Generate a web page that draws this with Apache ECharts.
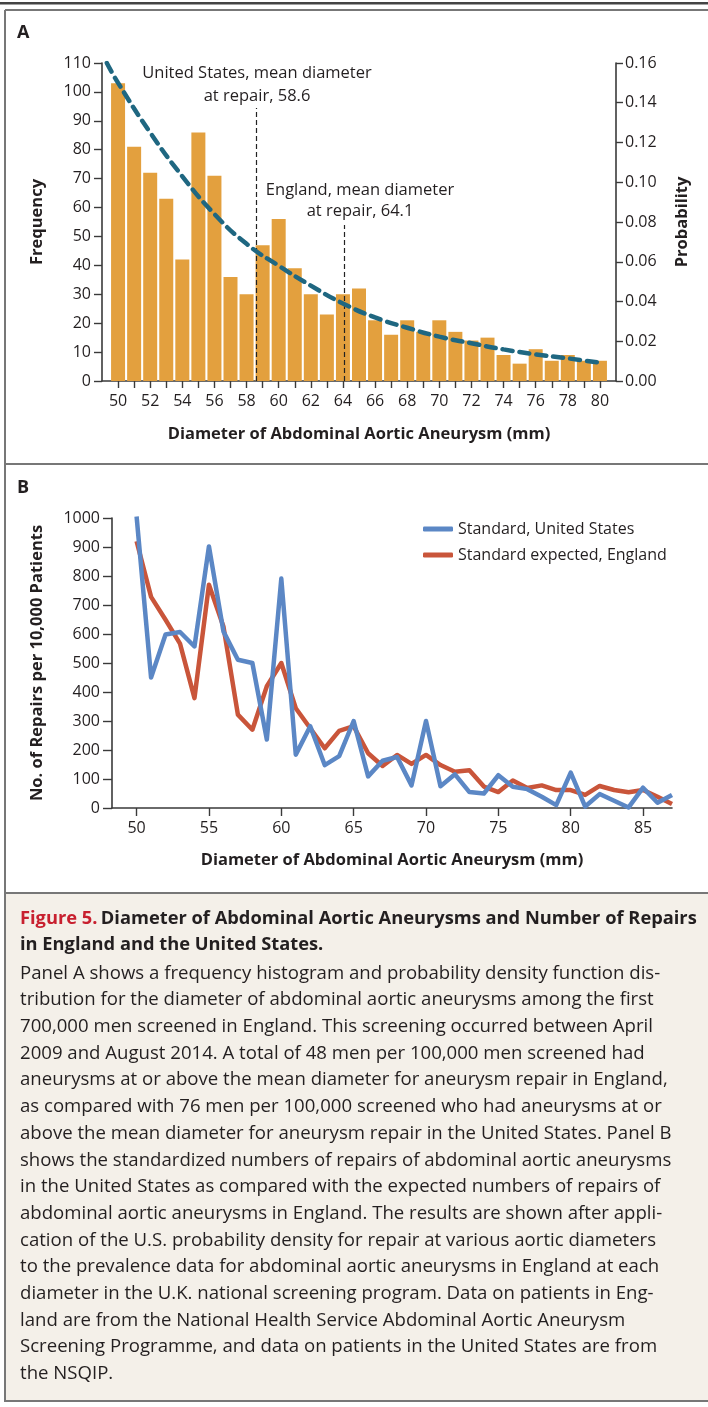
<!DOCTYPE html>
<html>
<head>
<meta charset="utf-8">
<script src="https://cdn.jsdelivr.net/npm/echarts@6/dist/echarts.min.js"></script>
<style>
  html, body { margin: 0; padding: 0; background: #fff; }
  #chart { width: 708px; height: 1407px; }
</style>
</head>
<body>
<div id="chart"></div>
<script>
const FONT = '"Open Sans"';
const INK = '#231f20';

// Panel A: frequency histogram + probability density
const diameterA = [50, 51, 52, 53, 54, 55, 56, 57, 58, 59, 60, 61, 62, 63, 64, 65,
    66, 67, 68, 69, 70, 71, 72, 73, 74, 75, 76, 77, 78, 79, 80];
const frequency = [103, 81, 72, 63, 42, 86, 71, 36, 30, 47, 56, 39, 30, 23, 30, 32,
    21, 16, 21, 17, 21, 17, 14, 15, 9, 6, 11, 7, 9, 7, 7];
const pdfDiameter = [49.3, 50, 52, 54, 56, 58, 60, 62, 64, 66, 68, 70, 72, 74, 76, 78, 80];
const pdfProbability = [0.160, 0.150, 0.125, 0.103, 0.084, 0.069, 0.058, 0.048, 0.039,
    0.032, 0.0268, 0.0223, 0.019, 0.0159, 0.0134, 0.0114, 0.0092];
const meanRepair = [58.6, 64.1];
const meanLineTop = [94.4, 54];
const ticksA = diameterA;
const labelsA = [50, 52, 54, 56, 58, 60, 62, 64, 66, 68, 70, 72, 74, 76, 78, 80];

// Panel B: repairs per 10,000 patients
const diameterB = [50, 51, 52, 53, 54, 55, 56, 57, 58, 59, 60, 61, 62, 63, 64, 65, 66, 67, 68,
    69, 70, 71, 72, 73, 74, 75, 76, 77, 78, 79, 80, 81, 82, 83, 84, 85, 86, 87];
const usRepairs = [1005, 450, 598, 607, 557, 902, 609, 511, 500, 236, 791, 184, 282, 148, 179,
    300, 109, 163, 176, 78, 300, 75, 116, 55, 50, 113, 73, 65, 39, 10, 122, 5, 48, 25, 2, 70, 18, 45];
const englandRepairs = [920, 728, 649, 567, 379, 770, 626, 322, 270, 420, 500, 344, 275, 206, 266,
    282, 189, 145, 183, 152, 183, 148, 125, 130, 74, 55, 95, 69, 78, 62, 62, 45, 76, 62, 54, 62, 39, 14];
const ticksB = [50, 55, 60, 65, 70, 75, 80, 85];

const captionLines = [
    'Panel A shows a frequency histogram and probability density function dis-',
    'tribution for the diameter of abdominal aortic aneurysms among the first',
    '700,000 men screened in England. This screening occurred between April',
    '2009 and August 2014. A total of 48 men per 100,000 men screened had',
    'aneurysms at or above the mean diameter for aneurysm repair in England,',
    'as compared with 76 men per 100,000 screened who had aneurysms at or',
    'above the mean diameter for aneurysm repair in the United States. Panel B',
    'shows the standardized numbers of repairs of abdominal aortic aneurysms',
    'in the United States as compared with the expected numbers of repairs of',
    'abdominal aortic aneurysms in England. The results are shown after appli-',
    'cation of the U.S. probability density for repair at various aortic diameters',
    'to the prevalence data for abdominal aortic aneurysms in England at each',
    'diameter in the U.K. national screening program. Data on patients in Eng-',
    'land are from the National Health Service Abdominal Aortic Aneurysm',
    'Screening Programme, and data on patients in the United States are from',
    'the NSQIP.'
];

const axisLine = { show: true, onZero: false, lineStyle: { color: '#3a3a3a', width: 1.6 } };
const tickStyle = { color: '#3a3a3a', width: 1.4 };
const tickLabel = { fontFamily: FONT, fontSize: 16, color: INK };
const nameStyle = { fontFamily: FONT, fontSize: 16.5, fontWeight: 'bold', color: INK };

const chart = echarts.init(document.getElementById('chart'));

chart.setOption({
    animation: false,
    textStyle: { fontFamily: FONT },
    grid: [
        { left: 102, right: 92, top: 63, height: 318 },
        { left: 112, right: 36, top: 518, height: 290 }
    ],
    xAxis: [
        {
            gridIndex: 0, type: 'value', min: 49, max: 81,
            axisLine: axisLine,
            axisTick: { show: true, customValues: ticksA, length: 7, lineStyle: tickStyle },
            axisLabel: { customValues: labelsA, margin: 12, ...tickLabel },
            splitLine: { show: false },
            name: 'Diameter of Abdominal Aortic Aneurysm (mm)',
            nameLocation: 'middle', nameGap: 45, nameTextStyle: nameStyle
        },
        {
            gridIndex: 1, type: 'value', min: 48.3, max: 87,
            axisLine: axisLine,
            axisTick: { show: true, customValues: ticksB, length: 8, lineStyle: tickStyle },
            axisLabel: { customValues: ticksB, margin: 12, ...tickLabel },
            splitLine: { show: false },
            name: 'Diameter of Abdominal Aortic Aneurysm (mm)',
            nameLocation: 'middle', nameGap: 44, nameTextStyle: nameStyle
        }
    ],
    yAxis: [
        {
            gridIndex: 0, type: 'value', min: 0, max: 110, interval: 10,
            axisLine: axisLine,
            axisTick: { show: true, length: 8, lineStyle: tickStyle },
            axisLabel: { margin: 11, ...tickLabel },
            splitLine: { show: false },
            name: 'Frequency', nameLocation: 'middle', nameRotate: 90, nameGap: 56,
            nameTextStyle: nameStyle
        },
        {
            gridIndex: 0, type: 'value', position: 'right', min: 0, max: 0.16, interval: 0.02,
            axisLine: axisLine,
            axisTick: { show: true, length: 7, lineStyle: tickStyle },
            axisLabel: { margin: 9, formatter: (v) => v.toFixed(2), ...tickLabel },
            splitLine: { show: false },
            name: 'Probability', nameLocation: 'middle', nameRotate: 90, nameGap: 58,
            nameTextStyle: nameStyle
        },
        {
            gridIndex: 1, type: 'value', min: 0, max: 1000, interval: 100,
            axisLine: axisLine,
            axisTick: { show: true, length: 9, lineStyle: tickStyle },
            axisLabel: { margin: 12, formatter: (v) => String(v), ...tickLabel },
            splitLine: { show: false },
            name: 'No. of Repairs per 10,000 Patients', nameLocation: 'middle', nameRotate: 90,
            nameGap: 66, nameTextStyle: nameStyle
        }
    ],
    legend: {
        data: ['Standard, United States', 'Standard expected, England'],
        orient: 'vertical', left: 418, top: 516,
        itemWidth: 30, itemHeight: 5, itemGap: 10, icon: 'roundRect',
        selectedMode: false,
        textStyle: { fontFamily: FONT, fontSize: 16, color: INK }
    },
    series: [
        {
            type: 'bar', name: 'Frequency', xAxisIndex: 0, yAxisIndex: 0,
            data: diameterA.map((d, i) => [d, frequency[i]]),
            barWidth: 14,
            itemStyle: { color: '#E3A03E' },
            markLine: {
                symbol: 'none', silent: true, z: 5,
                label: { show: false },
                lineStyle: { color: '#222', width: 1.2, type: [5, 3] },
                data: meanRepair.map((m, i) => [{ coord: [m, 0] }, { coord: [m, meanLineTop[i]] }])
            }
        },
        {
            type: 'line', name: 'Probability density', xAxisIndex: 0, yAxisIndex: 1,
            data: pdfDiameter.map((d, i) => [d, pdfProbability[i]]),
            smooth: true, showSymbol: false, z: 6,
            lineStyle: { color: '#1f6781', width: 4.5, type: [10, 7], cap: 'round' }
        },
        {
            type: 'line', name: 'Standard expected, England', xAxisIndex: 1, yAxisIndex: 2,
            data: diameterB.map((d, i) => [d, englandRepairs[i]]),
            showSymbol: false, color: '#C9553A',
            lineStyle: { color: '#C9553A', width: 4.5, join: 'round' }
        },
        {
            type: 'line', name: 'Standard, United States', xAxisIndex: 1, yAxisIndex: 2,
            data: diameterB.map((d, i) => [d, usRepairs[i]]),
            showSymbol: false, color: '#5B87C5',
            lineStyle: { color: '#5B87C5', width: 4.5, join: 'round' }
        }
    ],
    graphic: [
        { type: 'rect', z: -10, shape: { x: 6, y: 893, width: 702, height: 508 }, style: { fill: '#F4F0E9' } },
        { type: 'rect', shape: { x: 0, y: 2, width: 708, height: 2.5 }, style: { fill: '#444' } },
        { type: 'line', shape: { x1: 5, y1: 10, x2: 708, y2: 10 }, style: { stroke: '#777', lineWidth: 2 } },
        { type: 'line', shape: { x1: 5, y1: 10, x2: 5, y2: 1402 }, style: { stroke: '#777', lineWidth: 2 } },
        { type: 'line', shape: { x1: 5, y1: 464, x2: 708, y2: 464 }, style: { stroke: '#777', lineWidth: 2 } },
        { type: 'line', shape: { x1: 5, y1: 893, x2: 708, y2: 893 }, style: { stroke: '#777', lineWidth: 2 } },
        { type: 'line', shape: { x1: 5, y1: 1401, x2: 708, y2: 1401 }, style: { stroke: '#777', lineWidth: 2 } },
        { type: 'text', x: 17, y: 33, style: { text: 'A', font: 'bold 18px "Open Sans"', fill: INK, textVerticalAlign: 'middle' } },
        { type: 'text', x: 17, y: 488, style: { text: 'B', font: 'bold 18px "Open Sans"', fill: INK, textVerticalAlign: 'middle' } },
        {
            type: 'text', x: 257, y: 61.5,
            style: { text: 'United States, mean diameter\nat repair, 58.6', font: '16.5px "Open Sans"', fill: INK,
                textAlign: 'center', textVerticalAlign: 'top', lineHeight: 23 }
        },
        {
            type: 'text', x: 360, y: 179.5,
            style: { text: 'England, mean diameter\nat repair, 64.1', font: '16.5px "Open Sans"', fill: INK,
                textAlign: 'center', textVerticalAlign: 'top', lineHeight: 21 }
        },
        {
            type: 'text', x: 20, y: 906,
            style: {
                text: '{r|Figure 5.} {b|Diameter of Abdominal Aortic Aneurysms and Number of Repairs}\n{b|in England and the United States.}',
                rich: {
                    r: { font: 'bold 18.3px "Open Sans"', fill: '#C8202F', lineHeight: 26 },
                    b: { font: 'bold 18.3px "Open Sans"', fill: INK, lineHeight: 26 }
                }
            }
        },
        {
            type: 'text', x: 20, y: 960,
            style: { text: captionLines.join('\n'), font: '18.6px "Open Sans"', fill: INK, lineHeight: 26.7 }
        }
    ]
});
</script>
</body>
</html>
